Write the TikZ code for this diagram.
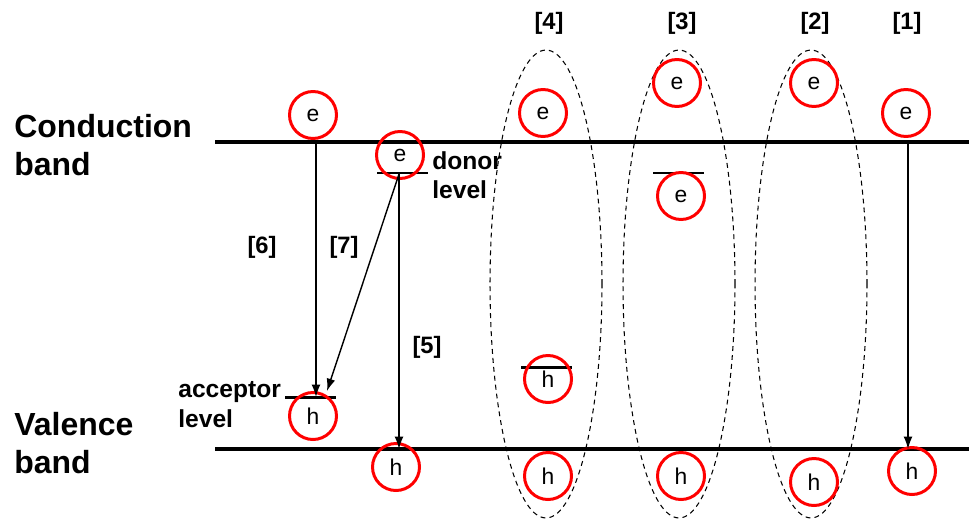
\documentclass[tikz,border=0pt]{standalone}
\usepackage{fontspec}
\setmainfont{Liberation Sans}
\usetikzlibrary{arrows.meta}
\begin{document}
\begin{tikzpicture}[x=0.02cm, y=-0.02cm,
    carrier/.style={circle, draw=red, line width=1.7pt, minimum size=0.94cm, inner sep=0pt, font=\fontsize{13}{15}\selectfont},
    bandline/.style={line width=2.2pt},
    levelline/.style={line width=1.7pt},
    trans/.style={-{Latex[length=7pt,width=5pt]}, line width=0.8pt},
    group/.style={dashed, line width=0.6pt, dash pattern=on 2.8pt off 2.3pt},
    tag/.style={inner sep=0pt, font=\bfseries\fontsize{13.5}{15}\selectfont},
    bandtext/.style={anchor=base west, inner sep=0pt, font=\bfseries\fontsize{18.2}{22}\selectfont},
    leveltext/.style={anchor=base west, inner sep=0pt, font=\bfseries\fontsize{14}{16}\selectfont}]
    \useasboundingbox (0,0) rectangle (969,524);

    % BANDE
    \draw[bandline] (215,142) -- (969,142);
    \draw[bandline] (215,449) -- (969,449);
    \node[bandtext] (cb1) at (14,137) {Conduction};
    \node[bandtext] (cb2) at (14,175) {band};
    \node[bandtext] (vb1) at (14,435) {Valence};
    \node[bandtext] (vb2) at (14,473) {band};

    % LIVELLI
    \draw[levelline] (377,173) -- (428,173);
    \draw[levelline] (285,397) -- (336,397);
    \draw[levelline] (521,367) -- (572,367);
    \draw[levelline] (653,173) -- (704,173);
    \node[leveltext] (don1) at (432,169) {donor};
    \node[leveltext] (don2) at (432,198) {level};
    \node[leveltext] (acc1) at (178,397) {acceptor};
    \node[leveltext] (acc2) at (178,427) {level};

    % GRUPPI
    \draw[group] (546,284) ellipse [x radius=1.12cm, y radius=4.68cm];
    \draw[group] (679,284) ellipse [x radius=1.12cm, y radius=4.68cm];
    \draw[group] (811,284) ellipse [x radius=1.12cm, y radius=4.68cm];

    % PORTATORI
    \node[carrier] (e6) at (313,115) {e};
    \node[carrier] (e5) at (400,155) {e};
    \node[carrier] (h6) at (313,416) {h};
    \node[carrier] (h5) at (396,467) {h};
    \node[carrier] (e4) at (543,113) {e};
    \node[carrier] (a4) at (548,379) {h};
    \node[carrier] (h4) at (548,476) {h};
    \node[carrier] (e3) at (677,83) {e};
    \node[carrier] (d3) at (681,196) {e};
    \node[carrier] (h3) at (681,476) {h};
    \node[carrier] (e2) at (814,83) {e};
    \node[carrier] (h2) at (814,482) {h};
    \node[carrier] (e1) at (906,113) {e};
    \node[carrier] (h1) at (912,471) {h};

    % TRANSIZIONI
    \coordinate (c6) at (316,142);
    \coordinate (a6) at (316,397);
    \coordinate (d57) at (399,174);
    \coordinate (a7) at (327,391);
    \coordinate (v5) at (399,449);
    \coordinate (c1) at (908,142);
    \coordinate (v1) at (908,449);
    \draw[trans] (c6) -- (a6);
    \draw[trans] (d57) -- (a7);
    \draw[trans] (d57) -- (v5);
    \draw[trans] (c1) -- (v1);

    % ETICHETTE
    \node[tag] (t6) at (262,247) {[6]};
    \node[tag] (t7) at (344,247) {[7]};
    \node[tag] (t5) at (427,347) {[5]};
    \node[tag] (t4) at (549,23) {[4]};
    \node[tag] (t3) at (682,23) {[3]};
    \node[tag] (t2) at (815,23) {[2]};
    \node[tag] (t1) at (907,23) {[1]};
\end{tikzpicture}
\end{document}
